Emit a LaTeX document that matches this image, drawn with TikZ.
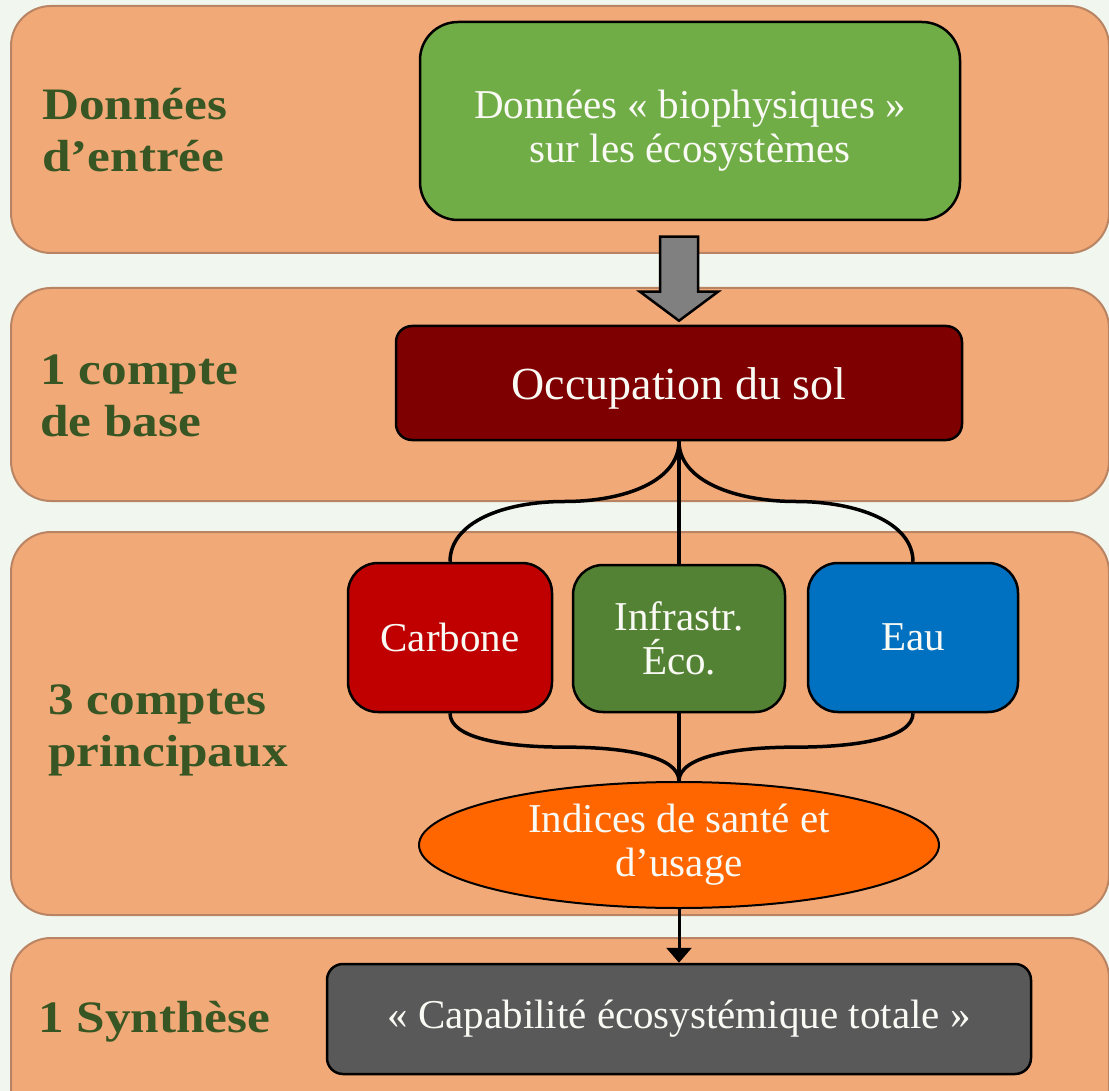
\documentclass[tikz,border=0pt]{standalone}
\usepackage{fontspec}
\setmainfont{Liberation Serif}
\newfontfamily\lblfont[FakeStretch=1.14]{Liberation Serif}
\usetikzlibrary{shapes.geometric,arrows.meta,calc}
\definecolor{bgc}{HTML}{F1F7EE}
\definecolor{bandfill}{HTML}{F2A978}
\definecolor{banddraw}{HTML}{B98463}
\definecolor{lblgreen}{HTML}{375623}
\definecolor{topgreen}{HTML}{70AD47}
\definecolor{occred}{HTML}{7F0000}
\definecolor{carbred}{HTML}{C00000}
\definecolor{infgreen}{HTML}{548235}
\definecolor{eaublue}{HTML}{0070C0}
\definecolor{ellorange}{HTML}{FF6600}
\definecolor{synthgrey}{HTML}{595959}
\definecolor{arrgrey}{HTML}{808080}
\definecolor{txtwhite}{HTML}{FAFAF5}
\tikzset{
  band/.style={fill=bandfill, draw=banddraw, line width=2pt, rounded corners=40pt},
  lbl/.style={text=lblgreen, font=\lblfont\bfseries\fontsize{45}{52}\selectfont, align=left, inner sep=0pt},
  boxbase/.style={draw=black, line width=2.5pt, text=txtwhite, align=center, inner sep=0pt,
    font=\fontsize{41}{44}\selectfont},
  conn/.style={draw=black, line width=3.5pt},
  blockarrow/.style={fill=arrgrey, draw=black, line width=2.5pt, line join=miter}
}
\begin{document}
\begin{tikzpicture}[x=1pt,y=-1pt]
\useasboundingbox (0,0) rectangle (1109,1091);
\fill[bgc] (0,0) rectangle (1109,1091);
% bands
\draw[band] (11,6) rectangle (1109,253);
\draw[band] (11,288) rectangle (1109,501);
\draw[band] (11,532) rectangle (1109,915);
\draw[band] (11,938) rectangle (1109,1130);
% left labels (base = baseline of last line)
\node[lbl, anchor=base west] (lab1) at (42,172) {Données\\d’entrée};
\node[lbl, anchor=base west] (lab2) at (40,436) {1 compte\\de base};
\node[lbl, anchor=base west] (lab3) at (48,766) {3 comptes\\principaux};
\node[lbl, anchor=base west] (lab4) at (38,1032) {1 Synthèse};
% boxes
\node[boxbase, fill=topgreen, rounded corners=38pt, minimum width=540pt, minimum height=198pt,
      text height=84pt, text depth=0pt] (green) at (690,121) {Données « biophysiques »\\sur les écosystèmes};
\node[boxbase, fill=occred, rounded corners=16pt, minimum width=566pt, minimum height=114pt,
      font=\fontsize{46}{50}\selectfont, text height=38pt, text depth=5pt] (occ) at (679,383) {Occupation du sol};
\node[boxbase, fill=carbred, rounded corners=30pt, minimum width=204pt, minimum height=149pt] (carb) at (450,637.5) {Carbone};
\node[boxbase, fill=infgreen, rounded corners=30pt, minimum width=212pt, minimum height=147pt] (infra) at (679,638.5) {Infrastr.\\Éco.};
\node[boxbase, fill=eaublue, rounded corners=30pt, minimum width=210pt, minimum height=149pt] (eau) at (913,637.5) {Eau};
\node[boxbase, fill=ellorange, ellipse, minimum width=520pt, minimum height=126pt, line width=2pt] (ell) at (679,845) {Indices de santé et\\d’usage};
\node[boxbase, fill=synthgrey, rounded corners=16pt, minimum width=704pt, minimum height=110pt] (synth) at (679,1019) {« Capabilité écosystémique totale »};
% block arrow
\coordinate (tip) at ($(occ.north)+(0,-4)$);
\draw[blockarrow] ($(tip)+(-19,-84)$) -- ($(tip)+(19,-84)$) -- ($(tip)+(19,-29)$) -- ($(tip)+(39,-29)$) -- (tip) -- ($(tip)+(-39,-29)$) -- ($(tip)+(-19,-29)$) -- cycle;
% connectors top
\coordinate (tl) at ($(occ.south)!.5!(carb.north)$);
\coordinate (tr) at ($(occ.south)!.5!(eau.north)$);
\draw[conn] (occ.south) .. controls +(0,40) and +(60,0) .. (tl) .. controls +(-60,0) and +(0,-40) .. (carb.north);
\draw[conn] (occ.south) .. controls +(0,40) and +(-60,0) .. (tr) .. controls +(60,0) and +(0,-40) .. (eau.north);
\draw[conn] (occ.south) -- (infra.north);
% connectors bottom
\coordinate (bl) at ($(carb.south)!.5!(ell.north)$);
\coordinate (br) at ($(eau.south)!.5!(ell.north)$);
\draw[conn] (carb.south) .. controls +(0,25) and +(-60,0) .. (bl) .. controls +(60,0) and +(0,-25) .. (ell.north);
\draw[conn] (eau.south) .. controls +(0,25) and +(60,0) .. (br) .. controls +(-60,0) and +(0,-25) .. (ell.north);
\draw[conn] (infra.south) -- (ell.north);
% final arrow
\draw[conn, line width=3pt, -{Triangle[width=25pt,length=15pt]}] (ell.south) -- (synth.north);
\end{tikzpicture}
\end{document}
